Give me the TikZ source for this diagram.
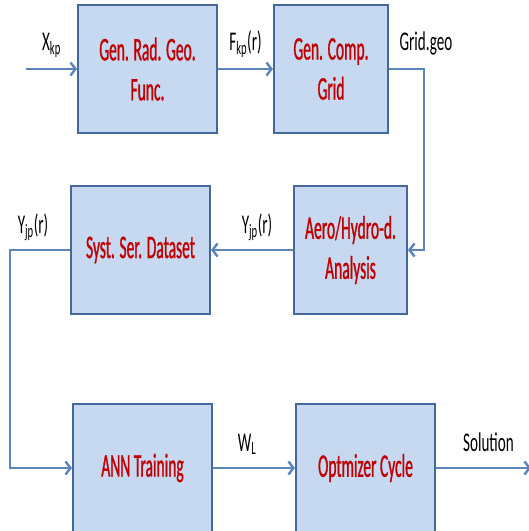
\documentclass[tikz,border=0pt]{standalone}
\usepackage{fontspec}
\setmainfont{Carlito}
\newfontfamily\boxfont[FakeStretch=0.47,FakeBold=0.8]{Carlito}
\newfontfamily\lblfont[FakeStretch=0.56]{Carlito}
\usetikzlibrary{positioning,arrows.meta}
\definecolor{boxfill}{HTML}{C6D9F1}
\definecolor{boxline}{HTML}{44689C}
\definecolor{flowblue}{HTML}{5A85BD}
\definecolor{boxtext}{HTML}{C00000}
\tikzset{
  block/.style={draw=boxline, fill=boxfill, line width=2pt, align=center, text=boxtext,
                font=\boxfont\fontsize{33}{40}\selectfont, inner sep=2pt,
                minimum width=#1, minimum height=128pt},
  block/.default=139pt,
  lbl/.style={font=\lblfont\fontsize{27}{32}\selectfont, anchor=base, inner sep=0pt, yshift=19pt},
  flow/.style={-{Straight Barb[length=5pt,width=13pt]}, line width=2.4pt, draw=flowblue},
}

\begin{document}
\begin{tikzpicture}[x=1pt,y=-1pt]
  \useasboundingbox (0,0) rectangle (529,531);
  % row 1
  \node[block] (radgeo) at (147.5,69) {Gen. Rad. Geo.\\Func.};
  \node[block=114pt, right=55pt of radgeo] (compgrid) {Gen. Comp.\\Grid};
  % row 2
  \node[block=113pt] (aero) at (350.5,250) {Aero/Hydro-d.\\Analysis};
  \node[block, left=82pt of aero] (dataset) {Syst. Ser. Dataset};
  % row 3
  \node[block] (ann) at (142.5,468) {ANN Training};
  \node[block, right=82pt of ann] (optim) {Optmizer Cycle};
  \coordinate (xin) at (26,69);
  \coordinate (solout) at (531,468);

  \draw[flow] (xin) -- node[lbl]{X\textsubscript{kp}} (radgeo);
  \draw[flow] (radgeo) -- node[lbl]{F\textsubscript{kp}(r)} (compgrid);
  \draw[flow] (compgrid.east) -- ++(35,0) node[lbl, xshift=2pt]{Grid.geo} |- (aero.east);
  \draw[flow] (aero) -- node[lbl, xshift=5pt, yshift=-2pt]{Y\textsubscript{jp}(r)} (dataset);
  \draw[flow] (dataset.west) -- node[lbl, xshift=-7pt, yshift=-2pt]{Y\textsubscript{jp}(r)} ++(-60,0) |- (ann.west);
  \draw[flow] (ann) -- node[lbl, xshift=-7pt, yshift=-2pt]{W\textsubscript{L}} (optim);
  \draw[flow] (optim) -- node[lbl, xshift=5pt, yshift=-2pt]{Solution} (solout);
\end{tikzpicture}
\end{document}
